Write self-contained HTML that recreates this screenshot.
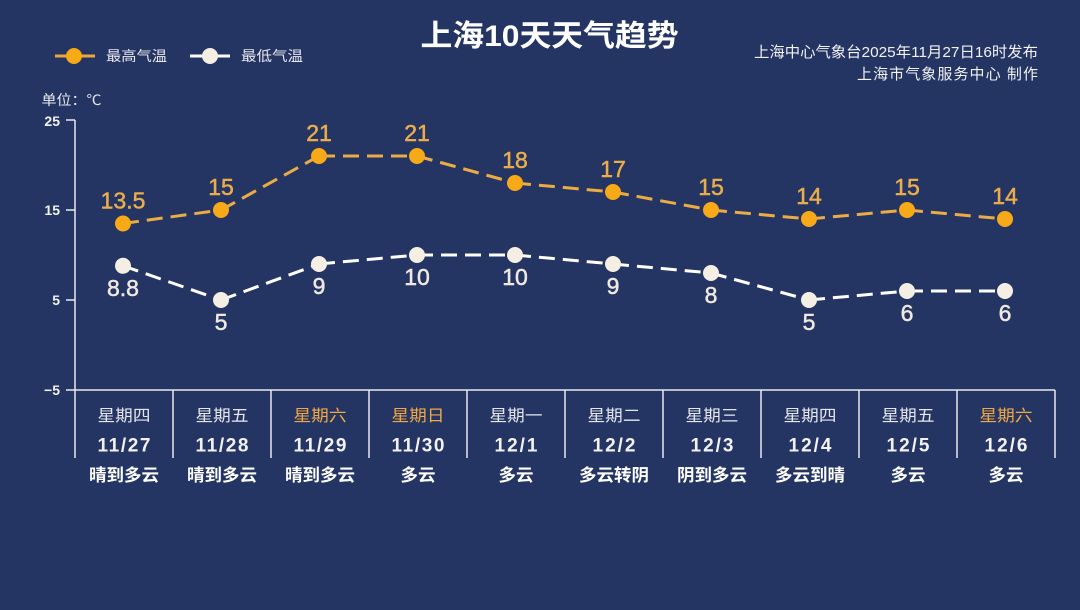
<!DOCTYPE html>
<html>
<head>
<meta charset="utf-8">
<style>
  html, body { margin: 0; padding: 0; background: #243463; }
  svg { display: block; }
  .cjk { font-family: "Liberation Sans", "Noto Sans CJK SC", sans-serif; }
  .num { font-family: "Liberation Sans", sans-serif; }
</style>
</head>
<body>
<svg width="1080" height="610" viewBox="0 0 1080 610" xmlns="http://www.w3.org/2000/svg">
  <rect x="0" y="0" width="1080" height="610" fill="#243463"/>

  <!-- Title -->
  <text x="420.5" y="46" class="cjk" font-size="30" font-weight="bold" fill="#ffffff" textLength="258" lengthAdjust="spacingAndGlyphs">上海10天天气趋势</text>

  <!-- Source text -->
  <text x="1038" y="57" class="cjk" font-size="15" fill="#f2f2f2" text-anchor="end" textLength="284" lengthAdjust="spacingAndGlyphs">上海中心气象台2025年11月27日16时发布</text>
  <text x="1038" y="79" class="cjk" font-size="15" fill="#f2f2f2" text-anchor="end" textLength="181" lengthAdjust="spacing">上海市气象服务中心 制作</text>

  <!-- Legend -->
  <line x1="55" y1="56" x2="95" y2="56" stroke="#eaa93e" stroke-width="3"/>
  <circle cx="74" cy="56" r="8" fill="#f7a918"/>
  <text x="106" y="61" class="cjk" font-size="14" fill="#e8e8ee" textLength="61" lengthAdjust="spacingAndGlyphs">最高气温</text>
  <line x1="190" y1="56" x2="230" y2="56" stroke="#ffffff" stroke-width="3"/>
  <circle cx="210" cy="56" r="8" fill="#f5eee2"/>
  <text x="241" y="61" class="cjk" font-size="14" fill="#e8e8ee" textLength="62" lengthAdjust="spacingAndGlyphs">最低气温</text>

  <!-- Unit -->
  <text x="41.5" y="105" class="cjk" font-size="14" fill="#e8e8ee" textLength="60" lengthAdjust="spacingAndGlyphs">单位：℃</text>

  <!-- Y axis -->
  <g stroke="#e8e8ee" stroke-width="1.5" fill="none">
    <line x1="75" y1="120" x2="75" y2="458"/>
    <line x1="66" y1="120" x2="75" y2="120"/>
    <line x1="66" y1="210" x2="75" y2="210"/>
    <line x1="66" y1="300" x2="75" y2="300"/>
    <line x1="66" y1="390" x2="1055" y2="390"/>
    <line x1="173" y1="390" x2="173" y2="458"/>
    <line x1="271" y1="390" x2="271" y2="458"/>
    <line x1="369" y1="390" x2="369" y2="458"/>
    <line x1="467" y1="390" x2="467" y2="458"/>
    <line x1="565" y1="390" x2="565" y2="458"/>
    <line x1="663" y1="390" x2="663" y2="458"/>
    <line x1="761" y1="390" x2="761" y2="458"/>
    <line x1="859" y1="390" x2="859" y2="458"/>
    <line x1="957" y1="390" x2="957" y2="458"/>
    <line x1="1055" y1="390" x2="1055" y2="458"/>
  </g>
  <g class="num" font-size="14" font-weight="bold" fill="#f2f2f2" text-anchor="end">
    <text x="60" y="126">25</text>
    <text x="60" y="215">15</text>
    <text x="60" y="305">5</text>
    <text x="60" y="395">−5</text>
  </g>

  <!-- High temp line segments -->
  <g stroke="#eaac45" stroke-width="3" stroke-dasharray="16 8" fill="none">
    <line x1="123" y1="223.5" x2="221" y2="210"/>
    <line x1="221" y1="210" x2="319" y2="156"/>
    <line x1="319" y1="156" x2="417" y2="156"/>
    <line x1="417" y1="156" x2="515" y2="183"/>
    <line x1="515" y1="183" x2="613" y2="192"/>
    <line x1="613" y1="192" x2="711" y2="210"/>
    <line x1="711" y1="210" x2="809" y2="219"/>
    <line x1="809" y1="219" x2="907" y2="210"/>
    <line x1="907" y1="210" x2="1005" y2="219"/>
  </g>
  <g fill="#f7a918">
    <circle cx="123" cy="223.5" r="8"/>
    <circle cx="221" cy="210" r="8"/>
    <circle cx="319" cy="156" r="8"/>
    <circle cx="417" cy="156" r="8"/>
    <circle cx="515" cy="183" r="8"/>
    <circle cx="613" cy="192" r="8"/>
    <circle cx="711" cy="210" r="8"/>
    <circle cx="809" cy="219" r="8"/>
    <circle cx="907" cy="210" r="8"/>
    <circle cx="1005" cy="219" r="8"/>
  </g>
  <g class="num" font-size="23" fill="#e9ad4c" stroke="#e9ad4c" stroke-width="0.5" text-anchor="middle">
    <text x="123" y="208.5">13.5</text>
    <text x="221" y="195">15</text>
    <text x="319" y="141">21</text>
    <text x="417" y="141">21</text>
    <text x="515" y="168">18</text>
    <text x="613" y="177">17</text>
    <text x="711" y="195">15</text>
    <text x="809" y="204">14</text>
    <text x="907" y="195">15</text>
    <text x="1005" y="204">14</text>
  </g>

  <!-- Low temp line segments -->
  <g stroke="#ffffff" stroke-width="3" stroke-dasharray="16 8" fill="none">
    <line x1="123" y1="265.8" x2="221" y2="300"/>
    <line x1="221" y1="300" x2="319" y2="264"/>
    <line x1="319" y1="264" x2="417" y2="255"/>
    <line x1="417" y1="255" x2="515" y2="255"/>
    <line x1="515" y1="255" x2="613" y2="264"/>
    <line x1="613" y1="264" x2="711" y2="273"/>
    <line x1="711" y1="273" x2="809" y2="300"/>
    <line x1="809" y1="300" x2="907" y2="291"/>
    <line x1="907" y1="291" x2="1005" y2="291"/>
  </g>
  <g fill="#f5eee2">
    <circle cx="123" cy="265.8" r="8"/>
    <circle cx="221" cy="300" r="8"/>
    <circle cx="319" cy="264" r="8"/>
    <circle cx="417" cy="255" r="8"/>
    <circle cx="515" cy="255" r="8"/>
    <circle cx="613" cy="264" r="8"/>
    <circle cx="711" cy="273" r="8"/>
    <circle cx="809" cy="300" r="8"/>
    <circle cx="907" cy="291" r="8"/>
    <circle cx="1005" cy="291" r="8"/>
  </g>
  <g class="num" font-size="23" fill="#efe9e0" stroke="#efe9e0" stroke-width="0.5" text-anchor="middle">
    <text x="123" y="296">8.8</text>
    <text x="221" y="330">5</text>
    <text x="319" y="294">9</text>
    <text x="417" y="285">10</text>
    <text x="515" y="285">10</text>
    <text x="613" y="294">9</text>
    <text x="711" y="303">8</text>
    <text x="809" y="330">5</text>
    <text x="907" y="321">6</text>
    <text x="1005" y="321">6</text>
  </g>

  <!-- Weekday row -->
  <g class="cjk" font-size="16" text-anchor="middle">
    <text x="124" y="421" fill="#e6e6ec" textLength="53" lengthAdjust="spacingAndGlyphs">星期四</text>
    <text x="222" y="421" fill="#e6e6ec" textLength="53" lengthAdjust="spacingAndGlyphs">星期五</text>
    <text x="320" y="421" fill="#f0a944" textLength="53" lengthAdjust="spacingAndGlyphs">星期六</text>
    <text x="418" y="421" fill="#f0a944" textLength="53" lengthAdjust="spacingAndGlyphs">星期日</text>
    <text x="516" y="421" fill="#e6e6ec" textLength="53" lengthAdjust="spacingAndGlyphs">星期一</text>
    <text x="614" y="421" fill="#e6e6ec" textLength="53" lengthAdjust="spacingAndGlyphs">星期二</text>
    <text x="712" y="421" fill="#e6e6ec" textLength="53" lengthAdjust="spacingAndGlyphs">星期三</text>
    <text x="810" y="421" fill="#e6e6ec" textLength="53" lengthAdjust="spacingAndGlyphs">星期四</text>
    <text x="908" y="421" fill="#e6e6ec" textLength="53" lengthAdjust="spacingAndGlyphs">星期五</text>
    <text x="1006" y="421" fill="#f0a944" textLength="53" lengthAdjust="spacingAndGlyphs">星期六</text>
  </g>

  <!-- Date row -->
  <g class="num" font-size="19" font-weight="bold" fill="#f2f2f4" text-anchor="middle">
    <text x="124" y="451.5" textLength="53" lengthAdjust="spacing">11/27</text>
    <text x="222" y="451.5" textLength="53" lengthAdjust="spacing">11/28</text>
    <text x="320" y="451.5" textLength="53" lengthAdjust="spacing">11/29</text>
    <text x="418" y="451.5" textLength="53" lengthAdjust="spacing">11/30</text>
    <text x="516" y="451.5" textLength="43" lengthAdjust="spacing">12/1</text>
    <text x="614" y="451.5" textLength="43" lengthAdjust="spacing">12/2</text>
    <text x="712" y="451.5" textLength="43" lengthAdjust="spacing">12/3</text>
    <text x="810" y="451.5" textLength="43" lengthAdjust="spacing">12/4</text>
    <text x="908" y="451.5" textLength="43" lengthAdjust="spacing">12/5</text>
    <text x="1006" y="451.5" textLength="43" lengthAdjust="spacing">12/6</text>
  </g>

  <!-- Weather row -->
  <g class="cjk" font-size="17" font-weight="bold" fill="#ffffff" text-anchor="middle">
    <text x="124" y="481" textLength="70" lengthAdjust="spacingAndGlyphs">晴到多云</text>
    <text x="222" y="481" textLength="70" lengthAdjust="spacingAndGlyphs">晴到多云</text>
    <text x="320" y="481" textLength="70" lengthAdjust="spacingAndGlyphs">晴到多云</text>
    <text x="418" y="481" textLength="35" lengthAdjust="spacingAndGlyphs">多云</text>
    <text x="516" y="481" textLength="35" lengthAdjust="spacingAndGlyphs">多云</text>
    <text x="614" y="481" textLength="70" lengthAdjust="spacingAndGlyphs">多云转阴</text>
    <text x="712" y="481" textLength="70" lengthAdjust="spacingAndGlyphs">阴到多云</text>
    <text x="810" y="481" textLength="70" lengthAdjust="spacingAndGlyphs">多云到晴</text>
    <text x="908" y="481" textLength="35" lengthAdjust="spacingAndGlyphs">多云</text>
    <text x="1006" y="481" textLength="35" lengthAdjust="spacingAndGlyphs">多云</text>
  </g>
</svg>
</body>
</html>
